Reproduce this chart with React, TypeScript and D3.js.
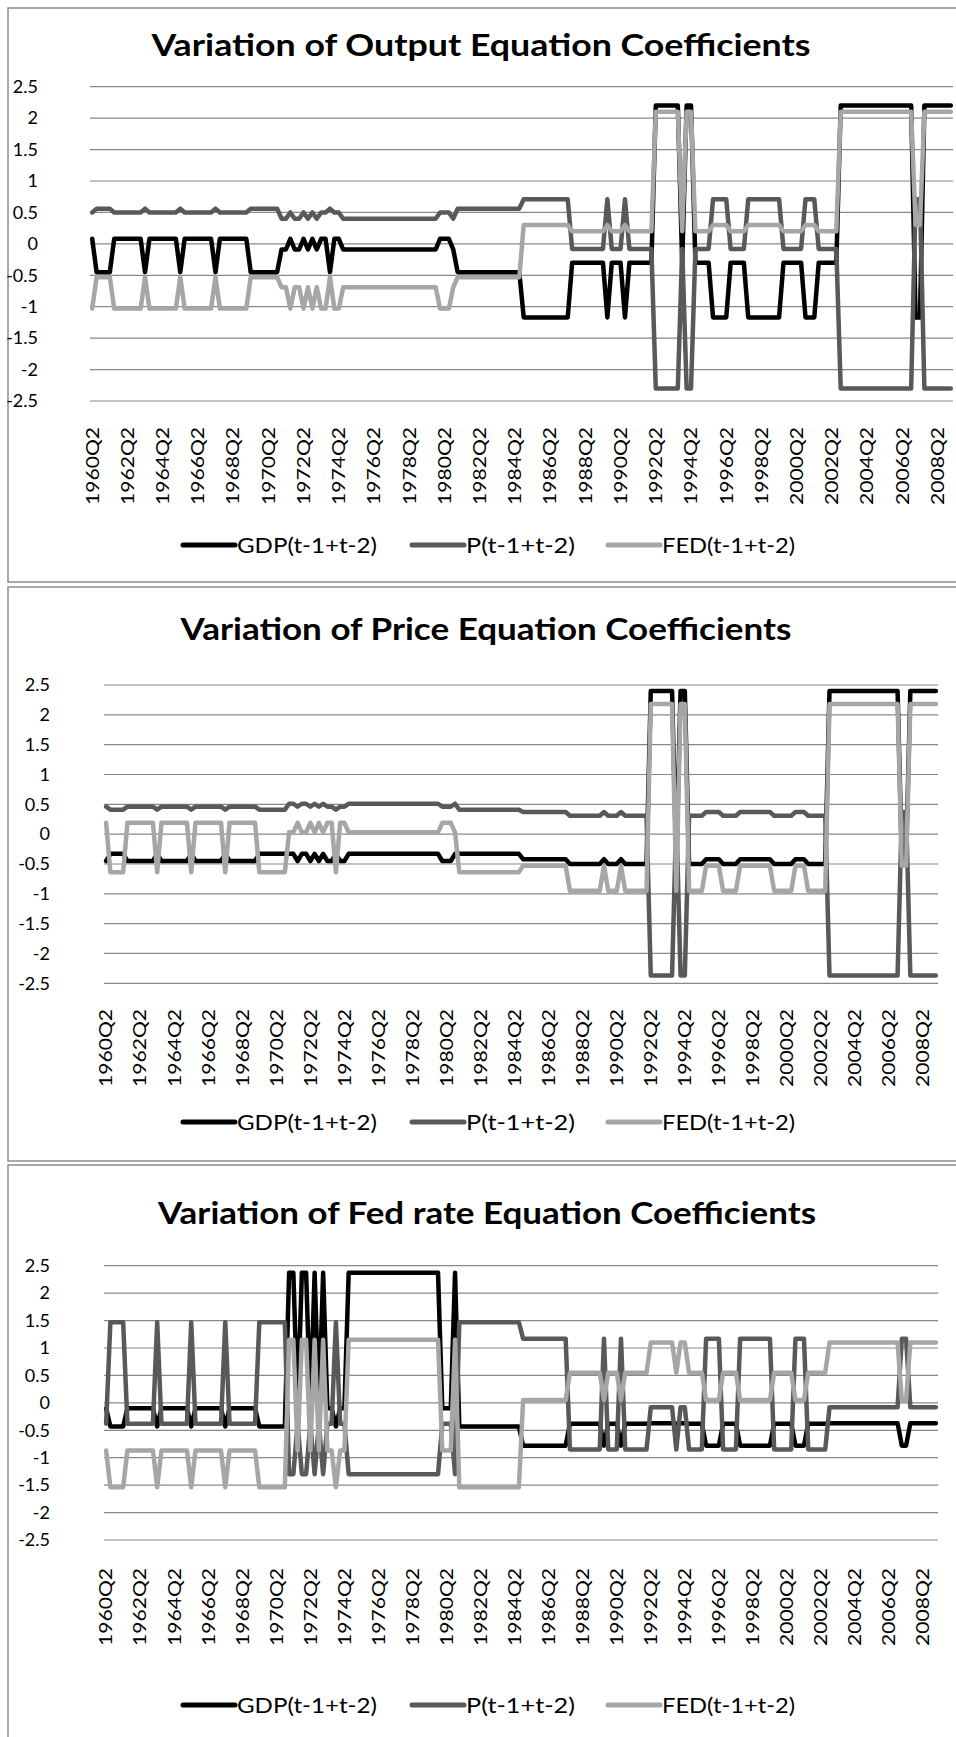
import React from "react";
import * as d3 from "d3";

// categories: 1960Q2 .. 2009Q1
const firstYear = 1960;
const firstQuarter = 2;
const quarterCount = 196;
const quarters: string[] = d3.range(quarterCount).map((k) => {
  const q = firstQuarter - 1 + k;
  return `${firstYear + Math.floor(q / 4)}Q${(q % 4) + 1}`;
});
const labelEvery = 8;

// regime path shared by the three equations: [state, quarters]
const regimeRuns: [string, number][] = [
  ["A", 1], ["B", 4], ["A", 7], ["B", 1], ["A", 7], ["B", 1], ["A", 7], ["B", 1],
  ["A", 7], ["B", 7],
  ["C", 2], ["A", 1], ["C", 2], ["A", 1], ["C", 1], ["A", 1], ["C", 1], ["A", 2],
  ["B", 1], ["A", 2], ["C", 1],
  ["C", 21], ["A", 3], ["C", 1], ["B", 15], ["E", 11], ["F", 8], ["E", 1], ["F", 3],
  ["E", 1], ["F", 6], ["G", 6], ["F", 1], ["G", 2], ["F", 4], ["E", 4], ["F", 4],
  ["E", 8], ["F", 5], ["E", 3], ["F", 5], ["G", 17], ["E", 2], ["G", 7],
];

const yTicks = [2.5, 2, 1.5, 1, 0.5, 0, -0.5, -1, -1.5, -2, -2.5];

const seriesNames = ["GDP(t-1+t-2)", "P(t-1+t-2)", "FED(t-1+t-2)"];
const seriesColors = ["#000000", "#595959", "#a6a6a6"];

// coefficient level per regime
const outputGdp = { A: 0.08, B: -0.45, C: -0.09, E: -1.17, F: -0.3, G: 2.2 };
const outputP = { A: 0.5, B: 0.56, C: 0.4, E: 0.71, F: -0.08, G: -2.3 };
const outputFed = { A: -1.03, B: -0.53, C: -0.69, E: 0.3, F: 0.2, G: 2.1 };

const priceGdp = { A: -0.45, B: -0.33, C: -0.33, E: -0.42, F: -0.5, G: 2.4 };
const priceP = { A: 0.46, B: 0.41, C: 0.51, E: 0.37, F: 0.31, G: -2.37 };
const priceFed = { A: 0.19, B: -0.64, C: 0.03, E: -0.53, F: -0.95, G: 2.18 };

const fedGdp = { A: -0.1, B: -0.43, C: 2.37, E: -0.78, F: -0.38, G: -0.37 };
const fedP = { A: -0.38, B: 1.47, C: -1.3, E: 1.17, F: -0.85, G: -0.08 };
const fedFed = { A: -0.87, B: -1.54, C: 1.15, E: 0.05, F: 0.55, G: 1.1 };

const regimes: string[] = regimeRuns.flatMap(([r, n]) => d3.range(n).map(() => r));

const font = "Lato, 'Open Sans', sans-serif";

function Panel(props: any) {
  const { title, levels, frame, plot, titleX, titleY, titleWidth, tickRight, labelTop, legendY } = props;
  const x = d3.scaleBand<string>().domain(quarters).range([plot.left, plot.right]);
  const y = d3.scaleLinear().domain([-2.5, 2.5]).range([plot.bottom, plot.top]);
  const cx = (q: string) => (x(q) ?? 0) + x.bandwidth() / 2;
  const line = d3
    .line<[string, number]>()
    .x((d) => cx(d[0]))
    .y((d) => y(d[1]));

  const legendX = [183, 412, 608];
  const legendWidth = [140, 109, 133];

  return (
    <g>
      <rect x={frame.x} y={frame.y} width={frame.w} height={frame.h} fill="#fff" stroke="#8c8c8c" strokeWidth={1.5} />
      <text x={titleX} y={titleY} textAnchor="middle" fontFamily={font} fontWeight="bold" fontSize={31}
        textLength={titleWidth} lengthAdjust="spacingAndGlyphs">{title}</text>

      {yTicks.map((t) => (
        <g key={t}>
          <line x1={plot.left} x2={plot.right} y1={y(t)} y2={y(t)} stroke="#888888" strokeWidth={1.2} />
          <text x={tickRight} y={y(t)} dy="0.35em" textAnchor="end" fontFamily={font} fontSize={18}>{String(t)}</text>
        </g>
      ))}

      {quarters.filter((_, i) => i % labelEvery === 0).map((q) => (
        <text key={q} transform={`translate(${cx(q)},${labelTop}) rotate(-90)`} dy="0.35em" textAnchor="end"
          fontFamily={font} fontSize={18} textLength={78} lengthAdjust="spacingAndGlyphs">{q}</text>
      ))}

      {levels.map((lv: any, k: number) => {
        const pts: [string, number][] = quarters.map((q, i) => [q, lv[regimes[i]]]);
        return (
          <path key={k} d={line(pts) ?? ""} fill="none" stroke={seriesColors[k]} strokeWidth={4.5}
            strokeLinejoin="round" strokeLinecap="round" />
        );
      })}

      {seriesNames.map((name, k) => (
        <g key={name}>
          <line x1={legendX[k]} x2={legendX[k] + 52} y1={legendY} y2={legendY} stroke={seriesColors[k]}
            strokeWidth={5} strokeLinecap="round" />
          <text x={legendX[k] + 54} y={legendY} dy="0.35em" fontFamily={font} fontSize={22}
            textLength={legendWidth[k]} lengthAdjust="spacingAndGlyphs">{name}</text>
        </g>
      ))}
    </g>
  );
}

export default function App() {
  return (
    <svg width={956} height={1737} style={{ position: "absolute", left: 0, top: 0 }}>
      <rect width={956} height={1737} fill="#fff" />
      <Panel
        title="Variation of Output Equation Coefficients"
        levels={[outputGdp, outputP, outputFed]}
        frame={{ x: 8, y: 8, w: 980, h: 574 }}
        plot={{ left: 90, right: 953, top: 86.7, bottom: 401 }}
        titleX={481} titleY={56} titleWidth={659}
        tickRight={38} labelTop={427} legendY={545}
      />
      <Panel
        title="Variation of Price Equation Coefficients"
        levels={[priceGdp, priceP, priceFed]}
        frame={{ x: 8, y: 587, w: 980, h: 574 }}
        plot={{ left: 104, right: 938, top: 685, bottom: 983.3 }}
        titleX={486} titleY={640} titleWidth={611}
        tickRight={50} labelTop={1009} legendY={1122}
      />
      <Panel
        title="Variation of Fed rate Equation Coefficients"
        levels={[fedGdp, fedP, fedFed]}
        frame={{ x: 8, y: 1165, w: 980, h: 600 }}
        plot={{ left: 104, right: 938, top: 1265.7, bottom: 1540 }}
        titleX={487} titleY={1224} titleWidth={658}
        tickRight={50} labelTop={1568} legendY={1705}
      />
    </svg>
  );
}
